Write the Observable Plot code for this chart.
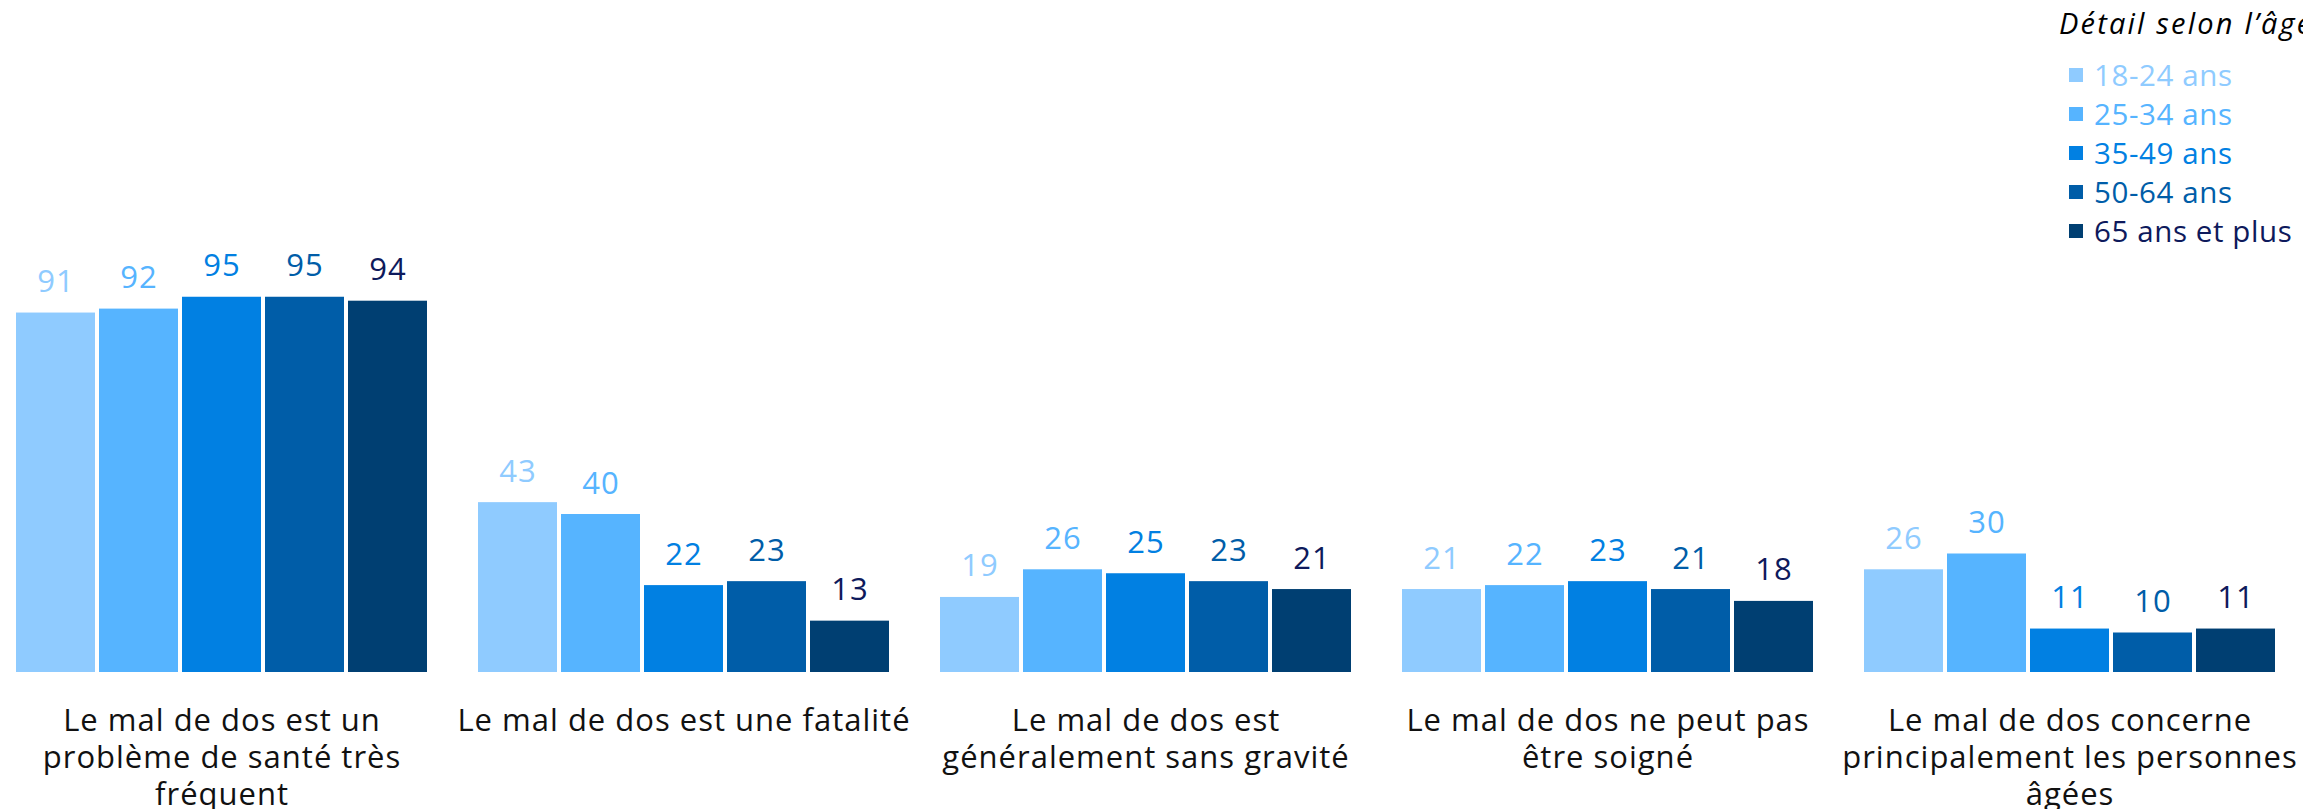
<!DOCTYPE html>
<html>
<head>
<meta charset="utf-8">
<script src="https://cdn.jsdelivr.net/npm/d3@7"></script>
<script src="https://cdn.jsdelivr.net/npm/@observablehq/plot@0.6"></script>
<style>
  html, body { margin: 0; padding: 0; background: #fff; overflow: hidden; }
  #wrap { position: relative; width: 2303px; height: 809px; overflow: hidden; font-family: "Open Sans", sans-serif; }
  #legend { position: absolute; left: 2059px; top: 0; white-space: nowrap; }
  #legend .title { position: absolute; left: 0; top: 3px; font-size: 29px; font-style: italic; color: #000; line-height: 40px; letter-spacing: 2.2px; }
  #legend .row { position: absolute; left: 10px; font-size: 29.5px; line-height: 40px; display: flex; align-items: center; letter-spacing: 0.6px; }
  #legend .sw { width: 14px; height: 14px; margin-right: 11px; }
  svg text { letter-spacing: 1px; }
</style>
</head>
<body>
<div id="wrap"><div id="chart"></div><div id="legend"></div></div>
<script>
const categories = [
  "Le mal de dos est un\nproblème de santé très\nfréquent",
  "Le mal de dos est une fatalité",
  "Le mal de dos est\ngénéralement sans gravité",
  "Le mal de dos ne peut pas\nêtre soigné",
  "Le mal de dos concerne\nprincipalement les personnes\nâgées"
];
const ageGroups = ["18-24 ans", "25-34 ans", "35-49 ans", "50-64 ans", "65 ans et plus"];
const v18_24 = [91, 43, 19, 21, 26];
const v25_34 = [92, 40, 26, 22, 30];
const v35_49 = [95, 22, 25, 23, 11];
const v50_64 = [95, 23, 23, 21, 10];
const v65plus = [94, 13, 21, 18, 11];
const legendTitle = "Détail selon l’âge";

const barColors = ["#8fcbff", "#56b4ff", "#0180e2", "#005da8", "#003f72"];
const textColors = ["#8fcbff", "#56b4ff", "#0180e2", "#005da8", "#0e1a5c"];

const series = [v18_24, v25_34, v35_49, v50_64, v65plus];
const data = [];
categories.forEach((c, i) => ageGroups.forEach((a, j) => data.push({cat: c, age: a, value: series[j][i]})));

const labelMarks = ageGroups.map((a, j) =>
  Plot.text(data.filter(d => d.age === a), {
    fx: "cat", x: "age", y: "value", text: d => String(d.value),
    lineAnchor: "bottom", dy: -21, fontSize: 31, fill: textColors[j]
  })
);

const chart = Plot.plot({
  width: 2303,
  height: 809,
  marginLeft: 15,
  marginRight: 26,
  marginTop: 277,
  marginBottom: 137,
  style: {fontFamily: "'Open Sans', sans-serif", overflow: "visible", background: "#fff"},
  fx: {domain: categories, paddingInner: 0.11, paddingOuter: 0, axis: null},
  x: {domain: ageGroups, paddingInner: 0.05, paddingOuter: 0, axis: null},
  y: {domain: [0, 100], axis: null},
  color: {domain: ageGroups, range: barColors},
  marks: [
    Plot.barY(data, {fx: "cat", x: "age", y: "value", fill: "age", inset: 0}),
    ...labelMarks,
    Plot.text(categories, {
      fx: d => d, text: d => d, frameAnchor: "bottom", lineAnchor: "top",
      dy: 32, fontSize: 31, lineHeight: 1.2, fill: "#111"
    })
  ]
});
document.getElementById("chart").appendChild(chart);

const legend = document.getElementById("legend");
const t = document.createElement("div");
t.className = "title";
t.textContent = legendTitle;
legend.appendChild(t);
ageGroups.forEach((a, j) => {
  const r = document.createElement("div");
  r.className = "row";
  r.style.top = (55 + j * 39) + "px";
  r.style.color = textColors[j];
  const sw = document.createElement("span");
  sw.className = "sw";
  sw.style.background = barColors[j];
  r.appendChild(sw);
  const s = document.createElement("span");
  s.textContent = a;
  r.appendChild(s);
  legend.appendChild(r);
});
</script>
</body>
</html>
